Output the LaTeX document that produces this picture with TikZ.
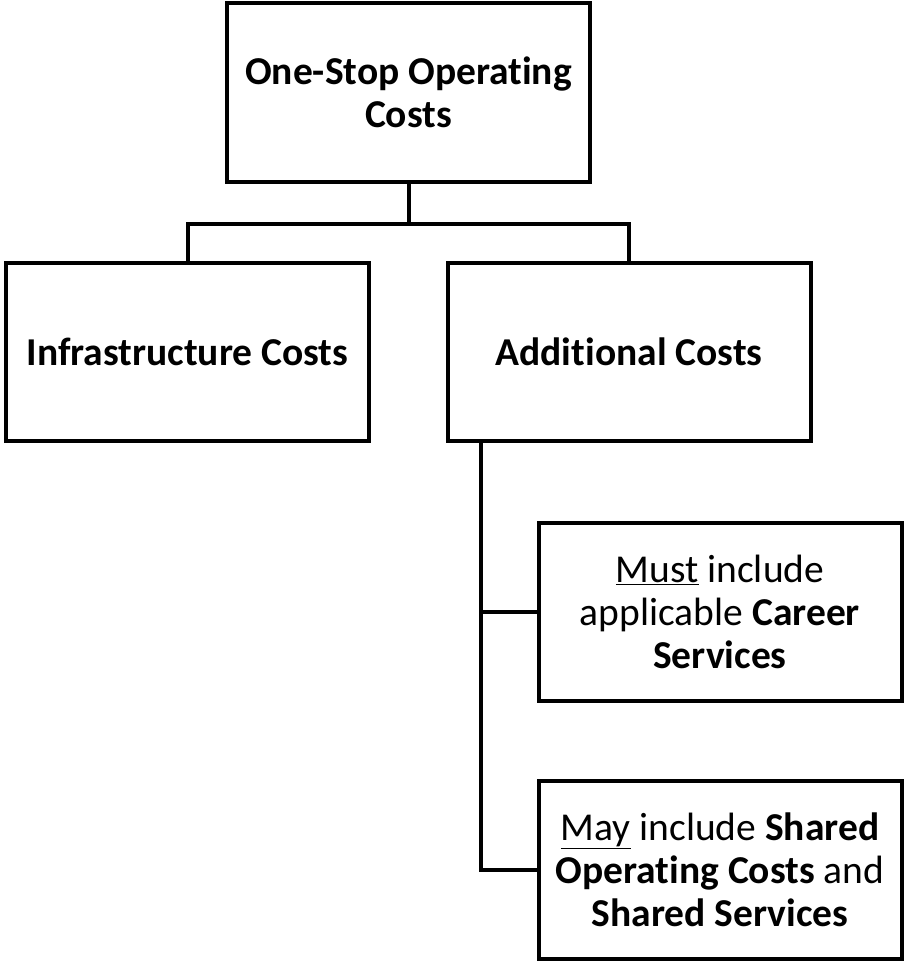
\documentclass[tikz,border=0pt]{standalone}
\usepackage{fontspec}
\setmainfont[RawFeature=-liga]{Carlito}
\usetikzlibrary{calc}

\begin{document}
\begin{tikzpicture}[x=1pt,y=-1pt,
    costbox/.style={draw,line width=4pt,align=center,inner sep=0pt,
        font=\fontsize{39.5}{43}\selectfont},
    link/.style={line width=4pt,line cap=rect}]

%frame
\useasboundingbox (0,0) rectangle (904,963);

%box sizes
\def\bw{363}
\def\bh{178}

%boxes
\node[costbox,minimum width=\bw pt,minimum height=\bh pt] (total) at (408.5,92.5)
    {\textbf{One-Stop Operating}\\\textbf{Costs}};
\node[costbox,minimum width=\bw pt,minimum height=\bh pt] (infra) at (187.5,352)
    {\textbf{Infrastructure Costs}};
\node[costbox,minimum width=\bw pt,minimum height=\bh pt] (extra) at (629,352)
    {\textbf{Additional Costs}};
\node[costbox,minimum width=\bw pt,minimum height=\bh pt] (career) at (720,611.5)
    {\underline{Must} include\\applicable \textbf{Career}\\\textbf{Services}};
\node[costbox,minimum width=\bw pt,minimum height=\bh pt] (shared) at (720,870)
    {\underline{May} include \textbf{Shared}\\\textbf{Operating Costs} and\\\textbf{Shared Services}};

%split points
\coordinate (split) at ($(total.south)+(0,40)$);
\coordinate (trunk) at ($(extra.south west)+(35,0)$);

%draw links
\draw[link] (total.south) -- (split);
\draw[link] (infra.north) |- (split) -| (extra.north);
\draw[link] (trunk) |- (career.west);
\draw[link] (trunk) |- (shared.west);

\end{tikzpicture}
\end{document}
